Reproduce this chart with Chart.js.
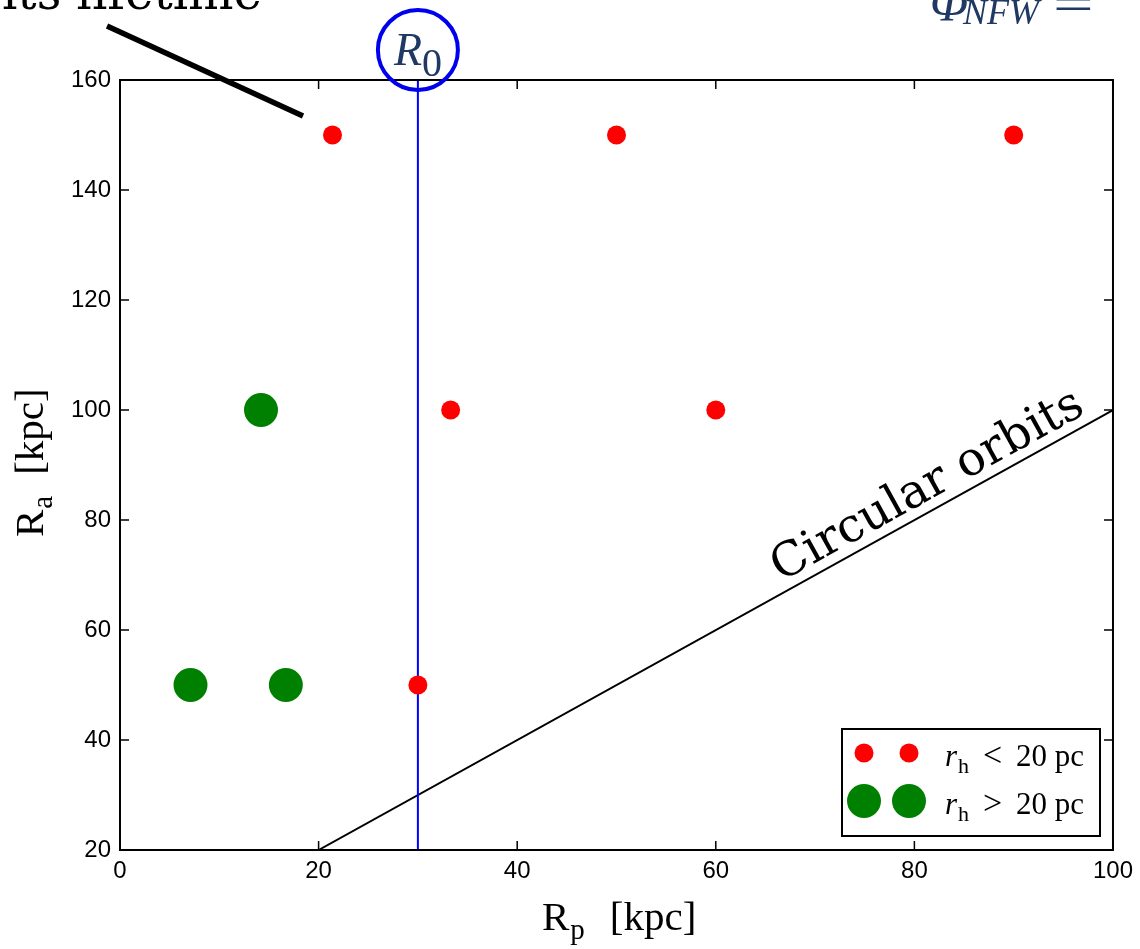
<!DOCTYPE html>
<html>
<head>
<meta charset="utf-8">
<title>Ra vs Rp</title>
<script src="https://cdn.jsdelivr.net/npm/chart.js@4.4.1/dist/chart.umd.min.js"></script>
<style>
  body { margin: 0; background: #fff; }
  canvas { display: block; }
</style>
</head>
<body>
<canvas id="chart" width="1140" height="949"></canvas>
<script>
// data
const redX = [21.4, 50, 90, 33.3, 60, 30];
const redY = [150, 150, 150, 100, 100, 50];
const greenX = [14.2, 7.1, 16.7];
const greenY = [100, 50, 50];
const circX = [20, 100];
const circY = [20, 100];
const r0X = [30, 30];
const r0Y = [20, 160];
const xTicks = [0, 20, 40, 60, 80, 100];
const yTicks = [20, 40, 60, 80, 100, 120, 140, 160];

const toPts = (xs, ys) => xs.map((x, i) => ({ x: x, y: ys[i] }));

const serif = '"Liberation Serif", "Times New Roman", serif';
const dvSerif = '"DejaVu Serif", serif';
const navy = '#1f3864';

// text with a subscript, returns end x
function subText(ctx, x, y, main, sub, size, italicMain, subScale, drop) {
    ctx.font = (italicMain ? 'italic ' : '') + size + 'px ' + serif;
    ctx.fillText(main, x, y);
    let w = ctx.measureText(main).width;
    ctx.font = Math.round(size * subScale) + 'px ' + serif;
    ctx.fillText(sub, x + w + 1, y + drop);
    return x + w + 1 + ctx.measureText(sub).width;
}

const decor = {
    id: 'decor',
    afterDraw(chart) {
        const ctx = chart.ctx;
        const a = chart.chartArea;
        const sx = chart.scales.x, sy = chart.scales.y;
        ctx.save();

        // inward ticks on all four sides
        ctx.strokeStyle = '#000';
        ctx.lineWidth = 1.5;
        ctx.beginPath();
        xTicks.forEach(v => {
            let px = sx.getPixelForValue(v);
            ctx.moveTo(px, a.bottom); ctx.lineTo(px, a.bottom - 9);
            ctx.moveTo(px, a.top); ctx.lineTo(px, a.top + 9);
        });
        yTicks.forEach(v => {
            let py = sy.getPixelForValue(v);
            ctx.moveTo(a.left, py); ctx.lineTo(a.left + 9, py);
            ctx.moveTo(a.right, py); ctx.lineTo(a.right - 9, py);
        });
        ctx.stroke();

        // frame
        ctx.lineWidth = 2;
        ctx.strokeRect(a.left, a.top, a.right - a.left, a.bottom - a.top);

        // axis titles
        ctx.fillStyle = '#000';
        ctx.textBaseline = 'alphabetic';
        ctx.textAlign = 'left';
        let e = subText(ctx, 542, 930, 'R', 'p', 41, false, 0.7, 9);
        ctx.font = '41px ' + serif;
        ctx.fillText('[kpc]', e + 25, 930);

        ctx.save();
        ctx.translate(43, 537);
        ctx.rotate(-Math.PI / 2);
        e = subText(ctx, 0, 0, 'R', 'a', 41, false, 0.7, 9);
        ctx.font = '41px ' + serif;
        ctx.fillText('[kpc]', e + 21, 0);
        ctx.restore();

        // "Circular orbits" along the line
        let p1x = sx.getPixelForValue(circX[0]), p1y = sy.getPixelForValue(circY[0]);
        let p2x = sx.getPixelForValue(circX[1]), p2y = sy.getPixelForValue(circY[1]);
        let ang = Math.atan2(p2y - p1y, p2x - p1x);
        ctx.save();
        ctx.translate(781, 582);
        ctx.rotate(ang);
        ctx.font = '47px ' + dvSerif;
        ctx.fillText('Circular orbits', 0, 0);
        ctx.restore();

        // legend
        ctx.lineWidth = 2;
        ctx.strokeStyle = '#000';
        ctx.fillStyle = '#fff';
        ctx.fillRect(842, 729, 258, 107);
        ctx.strokeRect(842, 729, 258, 107);
        const rows = [
            { c: '#ff0000', r: 9.5, y: 753, op: '<' },
            { c: '#008000', r: 17, y: 801, op: '>' }
        ];
        rows.forEach(row => {
            ctx.fillStyle = row.c;
            [864, 909].forEach(cx => {
                ctx.beginPath();
                ctx.arc(cx, row.y, row.r, 0, Math.PI * 2);
                ctx.fill();
            });
            ctx.fillStyle = '#000';
            let ty = row.y + 13;
            subText(ctx, 945, ty, 'r', 'h', 31, true, 0.72, 7);
            ctx.font = '34px ' + serif;
            ctx.fillText(row.op, 983, ty);
            ctx.font = '31px ' + serif;
            ctx.fillText('20 pc', 1016, ty);
        });

        // R0 circle annotation
        let cx0 = sx.getPixelForValue(r0X[0]);
        ctx.strokeStyle = '#0000ee';
        ctx.lineWidth = 4;
        ctx.beginPath();
        ctx.ellipse(cx0, 50, 40, 40, 0, 0, Math.PI * 2);
        ctx.stroke();
        ctx.fillStyle = navy;
        ctx.font = 'italic 46px ' + serif;
        ctx.fillText('R', 394, 65);
        ctx.font = '40px ' + serif;
        ctx.fillText('0', 422, 76);

        // thick pointer line top-left
        ctx.strokeStyle = '#000';
        ctx.lineWidth = 5.5;
        ctx.beginPath();
        ctx.moveTo(107, 26);
        ctx.lineTo(303, 116);
        ctx.stroke();

        // cut-off slide text
        ctx.fillStyle = '#000';
        ctx.font = '48px ' + dvSerif;
        ctx.fillText('its lifetime', 2, 9);

        ctx.fillStyle = navy;
        ctx.font = 'italic 50px ' + serif;
        ctx.fillText('\u03A6', 930, 20);
        ctx.font = 'italic 36px ' + serif;
        ctx.fillText('NFW', 963, 24);
        ctx.save();
        ctx.translate(1053, 20);
        ctx.scale(1.5, 1);
        ctx.font = '48px ' + serif;
        ctx.fillText('=', 0, 0);
        ctx.restore();

        ctx.restore();
    }
};

const chart = new Chart(document.getElementById('chart'), {
    type: 'scatter',
    data: {
        datasets: [
            { label: 'rh < 20 pc', data: toPts(redX, redY), backgroundColor: '#ff0000', borderWidth: 0, pointRadius: 9.5, order: 0 },
            { label: 'rh > 20 pc', data: toPts(greenX, greenY), backgroundColor: '#008000', borderWidth: 0, pointRadius: 17, order: 0 },
            { label: 'Circular orbits', data: toPts(circX, circY), showLine: true, borderColor: '#000', borderWidth: 2, pointRadius: 0, order: 2 },
            { label: 'R0', data: toPts(r0X, r0Y), showLine: true, borderColor: '#0000ff', borderWidth: 2, pointRadius: 0, order: 1 }
        ]
    },
    options: {
        responsive: false,
        animation: false,
        devicePixelRatio: 1,
        events: [],
        layout: { padding: { left: 0, top: 80, right: 25, bottom: 0 } },
        plugins: { legend: { display: false }, tooltip: { enabled: false } },
        scales: {
            x: {
                type: 'linear', min: 0, max: 100,
                afterBuildTicks: s => { s.ticks = xTicks.map(v => ({ value: v })); },
                afterFit: s => { s.height = 99; },
                grid: { display: false, drawTicks: false },
                border: { display: false },
                ticks: { color: '#000', padding: 7, maxRotation: 0, font: { family: '"Liberation Sans", Arial, sans-serif', size: 24 } }
            },
            y: {
                type: 'linear', min: 20, max: 160,
                afterBuildTicks: s => { s.ticks = yTicks.map(v => ({ value: v })); },
                afterFit: s => { s.width = 120; },
                grid: { display: false, drawTicks: false },
                border: { display: false },
                ticks: { color: '#000', padding: 9, font: { family: '"Liberation Sans", Arial, sans-serif', size: 24 } }
            }
        }
    },
    plugins: [decor]
});
</script>
</body>
</html>
